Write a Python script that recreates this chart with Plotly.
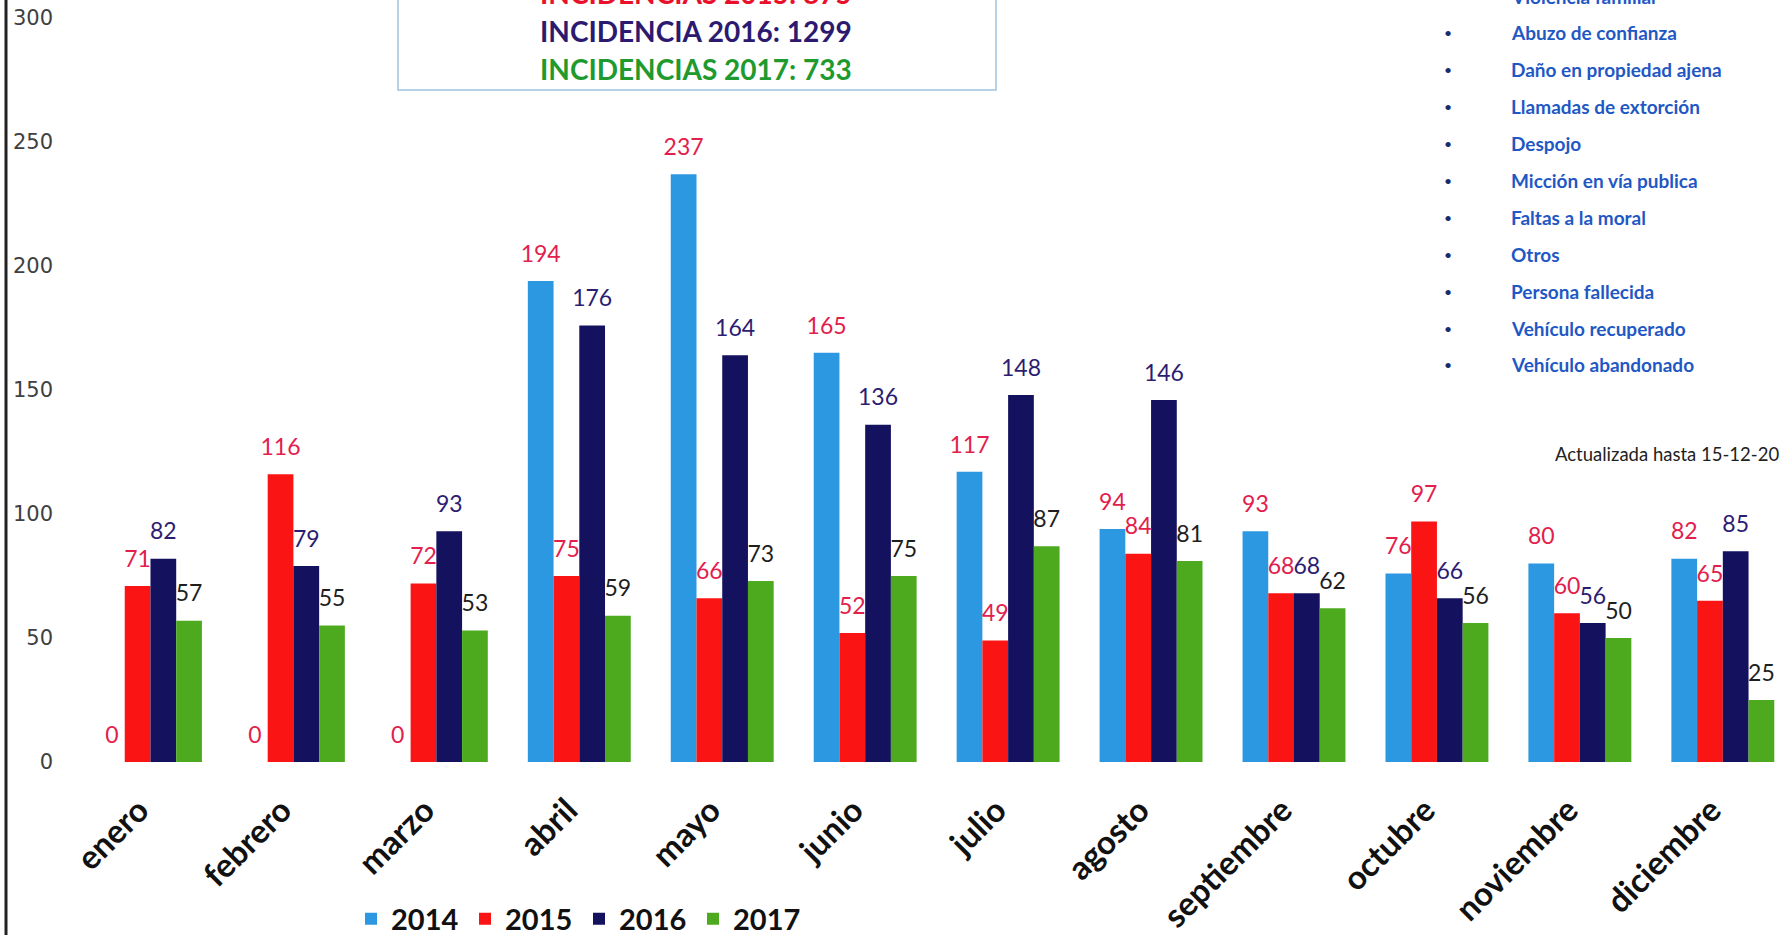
import plotly.graph_objects as go

months = ["enero", "febrero", "marzo", "abril", "mayo", "junio", "julio",
          "agosto", "septiembre", "octubre", "noviembre", "diciembre"]
v2014 = [0, 0, 0, 194, 237, 165, 117, 94, 93, 76, 80, 82]
v2015 = [71, 116, 72, 75, 66, 52, 49, 84, 68, 97, 60, 65]
v2016 = [82, 79, 93, 176, 164, 136, 148, 146, 68, 66, 56, 85]
v2017 = [57, 55, 53, 59, 73, 75, 87, 81, 62, 56, 50, 25]
years = ["2014", "2015", "2016", "2017"]
series = [v2014, v2015, v2016, v2017]

bar_colors = ["#2C98E2", "#FA1414", "#14125E", "#4DAA1E"]
label_colors = ["#E2204C", "#E2204C", "#2C1C72", "#1E1E1E"]

totals_text = ["INCIDENCIAS 2015: 875", "INCIDENCIA 2016: 1299", "INCIDENCIAS 2017: 733"]
totals_colors = ["#E8102A", "#2B1A70", "#1E9A2E"]

list_items = ["Violencia familiar", "Abuzo de confianza", "Daño en propiedad ajena",
              "Llamadas de extorción", "Despojo", "Micción en vía publica",
              "Faltas a la moral", "Otros", "Persona fallecida",
              "Vehículo recuperado", "Vehículo abandonado"]
update_note = "Actualizada hasta 15-12-20"

W, H = 1790, 935
ML, MR, MT, MB = 79, 0, 18, 173
PW, PH = W - ML - MR, H - MT - MB


def px_x(p):  # page pixel -> paper fraction
    return (p - ML) / PW


def px_y(p):
    return 1 - (p - MT) / PH


fig = go.Figure()
for yr, vals, c in zip(years, series, bar_colors):
    fig.add_trace(go.Bar(name=yr, x=months, y=vals, marker_color=c,
                         marker_line_width=0, offsetgroup=yr))
for yr, vals, lc in zip(years, series, label_colors):
    fig.add_trace(go.Scatter(x=months, y=vals, mode="markers+text", text=[str(v) for v in vals],
                             textposition="top center", offsetgroup=yr,
                             marker=dict(size=20, opacity=0), showlegend=False,
                             textfont=dict(family="Lato", size=23, color=lc),
                             cliponaxis=False, hoverinfo="skip"))

annotations = []
for i, (t, c) in enumerate(zip(totals_text, totals_colors)):
    cy = -7 + 38 * i
    annotations.append(dict(x=px_x(696), y=px_y(cy), xref="paper", yref="paper",
                            text="<b>" + t + "</b>", showarrow=False,
                            font=dict(family="Lato", size=28, color=c),
                            xanchor="center", yanchor="middle"))
for i, t in enumerate(list_items):
    cy = -4 + 36.9 * i
    annotations.append(dict(x=px_x(1448), y=px_y(cy), xref="paper", yref="paper",
                            text="•", showarrow=False,
                            font=dict(family="Lato", size=14, color="#1A2A6A"),
                            xanchor="center", yanchor="middle"))
    annotations.append(dict(x=px_x(1509), y=px_y(cy), xref="paper", yref="paper",
                            text="<b>" + t + "</b>", showarrow=False,
                            font=dict(family="Lato", size=19, color="#1F58C4"),
                            xanchor="left", yanchor="middle"))
annotations.append(dict(x=px_x(1781), y=px_y(454), xref="paper", yref="paper",
                        text=update_note, showarrow=False,
                        font=dict(family="Lato", size=18.5, color="#222222"),
                        xanchor="right", yanchor="middle"))

shapes = [
    dict(type="rect", xref="paper", yref="paper", x0=px_x(398), x1=px_x(996),
         y0=px_y(-10), y1=px_y(90), line=dict(color="#9CC3E4", width=1.5),
         fillcolor="rgba(0,0,0,0)"),
    dict(type="line", xref="paper", yref="paper", x0=px_x(6), x1=px_x(6),
         y0=px_y(0), y1=px_y(H), line=dict(color="#222222", width=3)),
]

fig.update_layout(
    width=W, height=H,
    margin=dict(l=ML, r=MR, t=MT, b=MB, autoexpand=False),
    paper_bgcolor="white", plot_bgcolor="white",
    barmode="group", bargap=0.28, bargroupgap=0,
    scattermode="group", scattergap=0.28,
    showlegend=True,
    legend=dict(orientation="h", x=px_x(351), y=px_y(919), xanchor="left", yanchor="middle",
                font=dict(family="Lato", size=29, color="#111111", weight="bold"),
                entrywidth=69, entrywidthmode="pixels", itemwidth=30,
                bgcolor="rgba(0,0,0,0)"),
    annotations=annotations,
    shapes=shapes,
    font=dict(family="Lato"),
)
fig.update_xaxes(range=[-0.5, 11.47], tickangle=-45, showgrid=False, showline=False,
                 zeroline=False, ticks="", automargin=False,
                 tickvals=months, ticktext=[m + "\u00a0\u00a0" for m in months],
                 tickfont=dict(family="Lato", size=33, color="#111111", weight="bold"),
                 ticklabelstandoff=10)
fig.update_yaxes(range=[0, 300], dtick=50, showgrid=False, showline=False, zeroline=False,
                 ticks="", automargin=False,
                 tickfont=dict(family="DejaVu Sans", size=21, color="#404040"),
                 ticklabelstandoff=25, ticklabeloverflow="allow")

page_fix = ("document.documentElement.style.margin='0';"
            "document.body.style.margin='0';"
            "document.body.style.fontSize='0';"
            "document.body.style.lineHeight='0';"
            "document.documentElement.style.overflow='hidden';"
            "document.body.style.overflow='hidden';")
fig.write_html("out.html", config={"displayModeBar": False}, post_script=page_fix)
